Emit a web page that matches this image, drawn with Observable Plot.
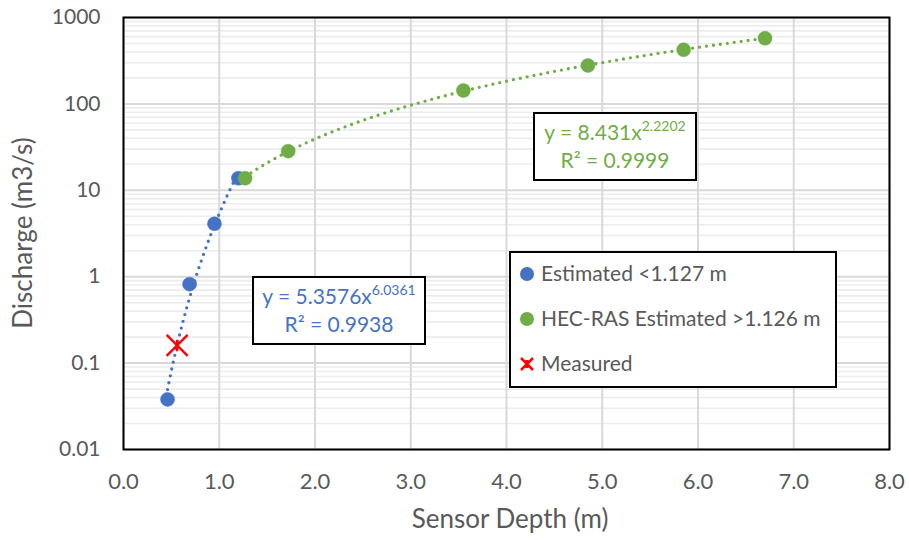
<!DOCTYPE html>
<html>
<head>
<meta charset="utf-8">
<script src="https://cdn.jsdelivr.net/npm/d3@7"></script>
<script src="https://cdn.jsdelivr.net/npm/@observablehq/plot@0.6"></script>
<style>
  body { margin: 0; background: white; }
  #chart { width: 909px; height: 540px; }
</style>
</head>
<body>
<div id="chart"></div>
<script>
// ---- data ----
const estDepth = [0.46, 0.69, 0.95, 1.20];
const estQ = [0.038, 0.82, 4.1, 13.8];
const hecDepth = [1.27, 1.72, 3.55, 4.85, 5.85, 6.70];
const hecQ = [13.8, 28.4, 143, 278, 423, 575];
const measDepth = [0.56];
const measQ = [0.16];
// power trendline coefficients (from chart labels)
const estFit = {a: 5.3576, b: 6.0361, from: 0.46, to: 1.20};
const hecFit = {a: 8.431, b: 2.2202, from: 1.27, to: 6.70};
const xTicks = [0, 1, 2, 3, 4, 5, 6, 7, 8];
const yTicks = [0.01, 0.1, 1, 10, 100, 1000];
const yTickLabels = ["0.01", "0.1", "1", "10", "100", "1000"];
const legendLabels = ["Estimated <1.127 m", "HEC-RAS Estimated >1.126 m", "Measured"];

const blue = "#4472C4", green = "#70AD47", red = "#FF0000", textGray = "#595959";

const est = estDepth.map((x, i) => ({x, y: estQ[i]}));
const hec = hecDepth.map((x, i) => ({x, y: hecQ[i]}));
const meas = measDepth.map((x, i) => ({x, y: measQ[i]}));
function trend(f) {
  const n = 120, pts = [];
  for (let i = 0; i <= n; i++) {
    const x = f.from + (f.to - f.from) * i / n;
    pts.push({x, y: f.a * Math.pow(x, f.b)});
  }
  return pts;
}
const minorY = yTicks.slice(0, -1).flatMap(d => [2,3,4,5,6,7,8,9].map(k => d * k));

const starSymbol = {
  draw(ctx, size) {
    const r = Math.sqrt(size / Math.PI);
    ctx.moveTo(-r, -r); ctx.lineTo(r, r);
    ctx.moveTo(-r, r); ctx.lineTo(r, -r);
    ctx.moveTo(0, -0.55 * r); ctx.lineTo(0, 0.55 * r);
  }
};

const chart = Plot.plot({
  width: 909, height: 540,
  marginLeft: 123, marginRight: 20, marginTop: 17, marginBottom: 91,
  style: {fontFamily: "Lato, sans-serif", fontSize: "21px", color: textGray, background: "white"},
  x: {domain: [0, 8]},
  y: {type: "log", domain: [0.01, 1000]},
  marks: [
    Plot.ruleY(minorY, {stroke: "#ececec", strokeWidth: 1.6}),
    Plot.gridY(yTicks, {stroke: "#d9d9d9", strokeOpacity: 1, strokeWidth: 2}),
    Plot.gridX(xTicks, {stroke: "#d9d9d9", strokeOpacity: 1, strokeWidth: 2}),
    Plot.axisX(xTicks, {tickSize: 0, tickPadding: 24, tickFormat: d3.format(".1f"), label: null, fill: textGray, fontSize: 22}),
    Plot.axisY(yTicks, {tickSize: 0, tickPadding: 23, tickFormat: (d) => yTickLabels[yTicks.indexOf(d)], label: null, fill: textGray}),
    Plot.line(trend(estFit), {x: "x", y: "y", stroke: blue, strokeWidth: 3.3, strokeDasharray: "0 7", strokeLinecap: "round"}),
    Plot.line(trend(hecFit), {x: "x", y: "y", stroke: green, strokeWidth: 3.3, strokeDasharray: "0 7", strokeLinecap: "round"}),
    Plot.dot(est, {x: "x", y: "y", r: 7, fill: blue, stroke: blue, strokeWidth: 0.5}),
    Plot.dot(hec, {x: "x", y: "y", r: 7, fill: green, stroke: green, strokeWidth: 0.5}),
    Plot.dot(meas, {x: "x", y: "y", r: 10.5, symbol: starSymbol, stroke: red, strokeWidth: 2.4, fill: "none"}),
    Plot.frame({stroke: "black", strokeWidth: 2})
  ]
});

const svg = d3.select(chart);
const font = "Lato, sans-serif";

// axis titles
svg.append("text").attr("x", 510).attr("y", 528).attr("text-anchor", "middle")
  .attr("font-family", font).attr("font-size", 26).attr("fill", textGray).text("Sensor Depth (m)");
svg.append("text").attr("transform", "translate(32,233) rotate(-90)").attr("text-anchor", "middle")
  .attr("font-family", font).attr("font-size", 26).attr("fill", textGray).text("Discharge (m3/s)");

// equation boxes
function eqBox(x0, y0, x1, y1, color, a, b, r2) {
  svg.append("rect").attr("x", x0).attr("y", y0).attr("width", x1 - x0).attr("height", y1 - y0)
    .attr("fill", "white").attr("stroke", "black").attr("stroke-width", 2);
  const cx = (x0 + x1) / 2;
  const t1 = svg.append("text").attr("x", cx).attr("y", y0 + 27).attr("text-anchor", "middle")
    .attr("font-family", font).attr("font-size", 21).attr("fill", color);
  t1.append("tspan").text(`y = ${a}x`);
  t1.append("tspan").attr("dy", -9).attr("font-size", 14).text(b);
  const t2 = svg.append("text").attr("x", cx).attr("y", y0 + 55).attr("text-anchor", "middle")
    .attr("font-family", font).attr("font-size", 21).attr("fill", color);
  t2.text(`R² = ${r2}`);
}
eqBox(534, 113, 696, 180, green, "8.431", "2.2202", "0.9999");
eqBox(253, 277, 425, 344, blue, "5.3576", "6.0361", "0.9938");

// legend
svg.append("rect").attr("x", 510).attr("y", 252).attr("width", 326).attr("height", 135)
  .attr("fill", "white").attr("stroke", "black").attr("stroke-width", 2);
const ly = [274, 319, 364];
svg.append("circle").attr("cx", 527).attr("cy", ly[0]).attr("r", 7).attr("fill", blue);
svg.append("circle").attr("cx", 527).attr("cy", ly[1]).attr("r", 7).attr("fill", green);
svg.append("path").attr("transform", `translate(527,${ly[2]})`)
  .attr("d", "M-6,-6L6,6M-6,6L6,-6M0,-4L0,4").attr("stroke", red).attr("stroke-width", 2.5).attr("fill", "none");
legendLabels.forEach((t, i) => {
  svg.append("text").attr("x", 541).attr("y", ly[i] + 7).attr("text-anchor", "start")
    .attr("font-family", font).attr("font-size", 21).attr("fill", textGray).text(t);
});

document.getElementById("chart").appendChild(chart);
</script>
</body>
</html>
